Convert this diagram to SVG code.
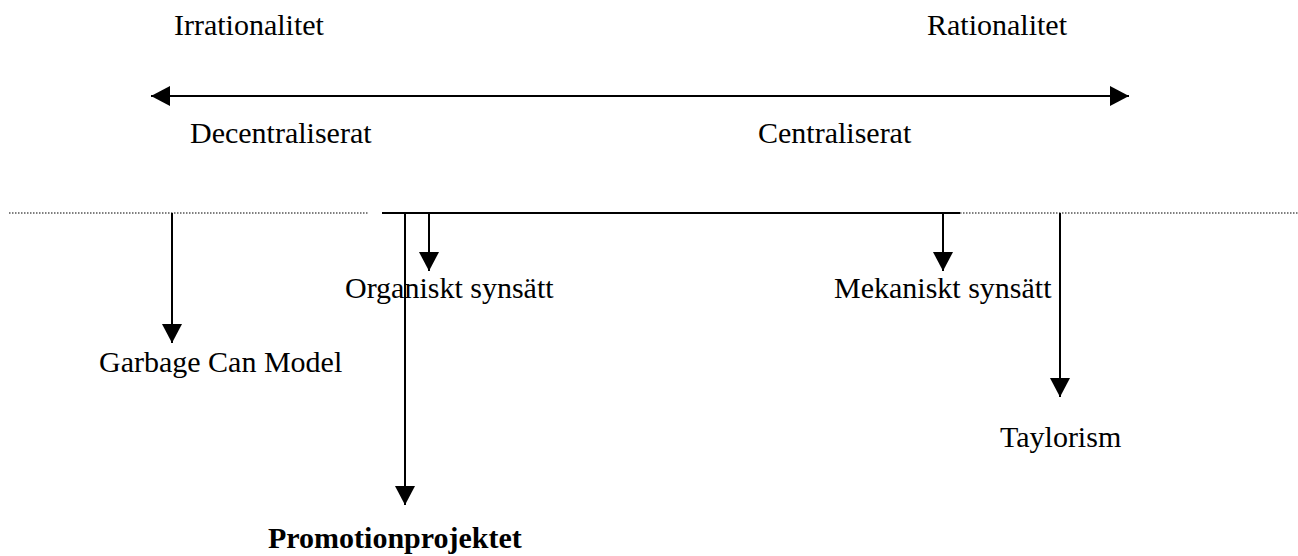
<svg xmlns="http://www.w3.org/2000/svg" width="1298" height="556" viewBox="0 0 1298 556">
  <style>
    .lbl { font-family: "Liberation Serif", "Times New Roman", serif; font-size: 30px; fill: #000; }
    .bold { font-weight: bold; }
    .ln { stroke: #000; stroke-width: 2; fill: none; }
    .dot { stroke: #000; stroke-width: 1.2; stroke-dasharray: 1.5 1.5; fill: none; }
  </style>
  <defs>
    <marker id="tri" markerUnits="userSpaceOnUse" markerWidth="20" markerHeight="20" refX="19" refY="10" orient="auto-start-reverse">
      <path d="M0,0 L19,10 L0,20 z" fill="#000"/>
    </marker>
  </defs>
  <rect width="1298" height="556" fill="#fff"/>

  <!-- scale axis -->
  <g id="axis">
    <line class="ln" x1="151" y1="96" x2="1129" y2="96" marker-start="url(#tri)" marker-end="url(#tri)"/>
    <text class="lbl" x="174" y="35">Irrationalitet</text>
    <text class="lbl" x="927" y="35">Rationalitet</text>
    <text class="lbl" x="190" y="143">Decentraliserat</text>
    <text class="lbl" x="758" y="143">Centraliserat</text>
  </g>

  <!-- dividing line -->
  <g id="divider">
    <line class="dot" x1="9" y1="213" x2="368" y2="213"/>
    <line class="ln" x1="382" y1="213" x2="960" y2="213"/>
    <line class="dot" x1="960" y1="213" x2="1298" y2="213"/>
  </g>

  <g id="connectors">
    <line class="ln" x1="172" y1="213" x2="172" y2="343" marker-end="url(#tri)"/>
    <line class="ln" x1="405" y1="213" x2="405" y2="505" marker-end="url(#tri)"/>
    <line class="ln" x1="429" y1="213" x2="429" y2="271" marker-end="url(#tri)"/>
    <line class="ln" x1="943" y1="213" x2="943" y2="271" marker-end="url(#tri)"/>
    <line class="ln" x1="1060" y1="213" x2="1060" y2="397" marker-end="url(#tri)"/>
  </g>

  <g id="garbage-can">
    <text class="lbl" x="99" y="372">Garbage Can Model</text>
  </g>
  <g id="organiskt">
    <text class="lbl" x="345" y="298">Organiskt synsätt</text>
  </g>
  <g id="mekaniskt">
    <text class="lbl" x="834" y="298">Mekaniskt synsätt</text>
  </g>
  <g id="taylorism">
    <text class="lbl" x="1000" y="447">Taylorism</text>
  </g>
  <g id="promotion">
    <text class="lbl bold" x="268" y="548">Promotionprojektet</text>
  </g>
</svg>
